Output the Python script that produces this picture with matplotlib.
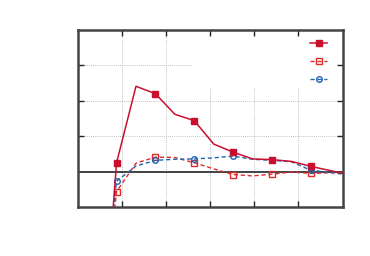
import numpy as np
import matplotlib
matplotlib.use('Agg')
from matplotlib import pyplot as plt
from matplotlib.patches import Rectangle

# sample positions (every 0.44 units), last one falls just outside the frame
x = [0.44, 0.88, 1.32, 1.76, 2.20, 2.64, 3.08, 3.52, 3.96, 4.40, 4.84, 5.28, 5.72, 6.16]

solid_red = [-7.0, 0.25, 2.41, 2.20, 1.62, 1.44, 0.78, 0.55, 0.36, 0.34, 0.29, 0.15, 0.03, -0.09]
dashed_red = [-5.7, -0.56, 0.24, 0.41, 0.40, 0.25, 0.08, -0.08, -0.12, -0.07, -0.01, -0.05, -0.03, -0.05]
dashed_blue = [-5.0, -0.27, 0.16, 0.32, 0.35, 0.36, 0.39, 0.44, 0.35, 0.32, 0.28, 0.04, -0.02, -0.10]

x_ticks = [1, 2, 3, 4, 5]
y_ticks = [1, 2, 3]

fig = plt.figure(figsize=(3.7, 2.56), dpi=100)
ax = fig.add_axes([0.210, 0.191, 0.716, 0.692])

ax.set_xlim(0, 6)
ax.set_ylim(-1, 4)

# dotted grid
for xv in x_ticks:
    ax.axvline(xv, color='#aaaaaa', lw=0.6, ls=(0, (1, 1.5)), zorder=1)
for yv in y_ticks:
    ax.axhline(yv, color='#aaaaaa', lw=0.6, ls=(0, (1, 1.5)), zorder=1)
ax.axhline(0, color='#222222', lw=1.2, zorder=2)

# opaque key box hides the grid behind it
ax.add_patch(Rectangle((0.435, 0.67), 0.565, 0.33, transform=ax.transAxes,
                       facecolor='white', edgecolor='none', zorder=1.5))

ax.plot(x, solid_red, color='#c8102e', lw=1.1, marker='s', ms=4,
        markevery=[1, 3, 5, 7, 9, 11], zorder=5, label=' ')
ax.plot(x, dashed_red, color='#dd2a2a', lw=1.0, ls=(0, (3, 2)), marker='s', ms=4,
        mfc='none', mew=1.0, markevery=[1, 3, 5, 7, 9, 11], zorder=4, label=' ')
ax.plot(x, dashed_blue, color='#1f66b0', lw=1.0, ls=(0, (3, 2)), marker='o', ms=4,
        mfc='none', mew=1.0, markevery=[1, 3, 5, 7, 9, 11], zorder=4, label=' ')

leg = ax.legend(loc='upper right', frameon=False, handlelength=1.5, handletextpad=0.0,
                labelspacing=0.75, fontsize=8, borderaxespad=0.2, markerfirst=True,
                bbox_to_anchor=(0.98, 0.99))
leg.set_zorder(6)

ax.set_xticks(x_ticks)
ax.set_yticks(y_ticks)
ax.set_xticklabels([])
ax.set_yticklabels([])
ax.tick_params(direction='in', length=4, width=1.0, color='#222222',
               top=True, right=True)

for sp in ax.spines.values():
    sp.set_color('#444444')
    sp.set_linewidth(1.8)

plt.savefig('out.png', dpi=100)
